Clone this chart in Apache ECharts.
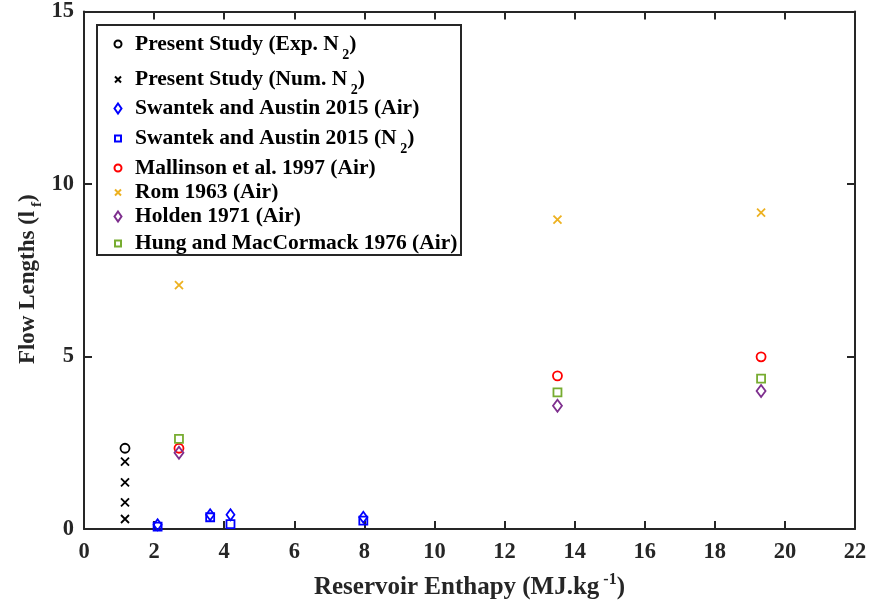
<!DOCTYPE html>
<html>
<head>
<meta charset="utf-8">
<script src="https://cdn.jsdelivr.net/npm/echarts@6/dist/echarts.min.js"></script>
<style>
  html, body { margin: 0; padding: 0; background: #fff; }
  #chart { width: 870px; height: 607px; }
</style>
</head>
<body>
<div id="chart"></div>
<script>
// Flow lengths against reservoir enthalpy
const presentExpX = [1.17];
const presentExpY = [2.34];
const presentNumX = [1.17, 1.17, 1.17, 1.17];
const presentNumY = [1.95, 1.35, 0.77, 0.29];
const swantekAirX = [2.10, 3.60, 4.18, 7.97];
const swantekAirY = [0.12, 0.41, 0.41, 0.34];
const swantekN2X = [2.10, 3.60, 4.18, 7.97];
const swantekN2Y = [0.07, 0.34, 0.14, 0.24];
const mallinsonX = [2.71, 13.51, 19.32];
const mallinsonY = [2.34, 4.44, 4.99];
const romX = [2.71, 13.51, 19.32];
const romY = [7.07, 8.97, 9.17];
const holdenX = [2.71, 13.51, 19.32];
const holdenY = [2.21, 3.57, 4.00];
const hungX = [2.71, 13.51, 19.32];
const hungY = [2.61, 3.96, 4.36];

const xTicks = { min: 0, max: 22, interval: 2 };
const yTicks = { min: 0, max: 15, interval: 5 };

const seriesNames = [
  'Present Study (Exp. N2)',
  'Present Study (Num. N2)',
  'Swantek and Austin 2015 (Air)',
  'Swantek and Austin 2015 (N2)',
  'Mallinson et al. 1997 (Air)',
  'Rom 1963 (Air)',
  'Holden 1971 (Air)',
  'Hung and MacCormack 1976 (Air)'
];
// legend captions with rich-text subscripts
const legendCaptions = [
  'Present Study (Exp. N{sub| 2})',
  'Present Study (Num. N{sub| 2})',
  'Swantek and Austin 2015 (Air)',
  'Swantek and Austin 2015 (N{sub| 2})',
  'Mallinson et al. 1997 (Air)',
  'Rom 1963 (Air)',
  'Holden 1971 (Air)',
  'Hung and MacCormack 1976 (Air)'
];

const FONT = '"Liberation Serif", "Times New Roman", serif';
const AXIS_COLOR = '#262626';
const CROSS = 'path://M0,0L10,10M0,10L10,0';

function pairs(xs, ys) { return xs.map((x, i) => [x, ys[i]]); }

// marker style per series; icon = legend marker size [w, h]
const styles = [
  { x: presentExpX, y: presentExpY, color: '#000000', symbol: 'circle', size: 9, icon: [7, 7] },
  { x: presentNumX, y: presentNumY, color: '#000000', symbol: CROSS, size: 8, icon: [6, 6] },
  { x: swantekAirX, y: swantekAirY, color: '#0000FF', symbol: 'diamond', size: [8, 11], icon: [7, 10] },
  { x: swantekN2X, y: swantekN2Y, color: '#0000FF', symbol: 'rect', size: 8, icon: [6, 6] },
  { x: mallinsonX, y: mallinsonY, color: '#FF0000', symbol: 'circle', size: 9, icon: [7, 7] },
  { x: romX, y: romY, color: '#EDB120', symbol: CROSS, size: 8, icon: [6, 6] },
  { x: holdenX, y: holdenY, color: '#7E2F8E', symbol: 'diamond', size: [9, 12], icon: [7, 10] },
  { x: hungX, y: hungY, color: '#77AC30', symbol: 'rect', size: 8, icon: [6, 6] }
];

const series = styles.map((s, i) => ({
  name: seriesNames[i],
  type: 'scatter',
  xAxisIndex: 0,
  yAxisIndex: 0,
  symbol: s.symbol,
  symbolSize: s.size,
  data: pairs(s.x, s.y),
  itemStyle: { color: 'rgba(0,0,0,0)', borderColor: s.color, borderWidth: 1.8, opacity: 1 },
  emphasis: { disabled: true },
  z: 3
}));

const legendRows = [42, 77, 108, 136, 166, 190, 216, 241];
const legendRich = {
  sub: { fontFamily: FONT, fontWeight: 'bold', fontSize: 14, color: '#000', padding: [22, 0, 0, 0] }
};
const ICON_CX = 117;
const TEXT_X = 134;
const legends = seriesNames.map((name, i) => {
  const [w, h] = styles[i].icon;
  return {
    data: [name],
    left: ICON_CX - w / 2,
    top: legendRows[i] - 9 - (h - 7) / 2,
    orient: 'vertical',
    padding: 0,
    itemWidth: w,
    itemHeight: h,
    itemGap: 0,
    symbolKeepAspect: false,
    selectedMode: false,
    formatter: () => legendCaptions[i],
    textStyle: {
      fontFamily: FONT, fontWeight: 'bold', fontSize: 21.5, color: '#000',
      padding: [0, 0, 0, TEXT_X - (ICON_CX + w / 2) - 5],
      rich: legendRich
    }
  };
});

const axisLine = { show: true, onZero: false, lineStyle: { color: AXIS_COLOR, width: 2 } };
const axisTick = { show: true, inside: true, length: 8, lineStyle: { color: AXIS_COLOR, width: 2 } };
const labelStyle = { fontFamily: FONT, fontWeight: 'bold', fontSize: 22.5, color: AXIS_COLOR };

const option = {
  backgroundColor: '#ffffff',
  animation: false,
  grid: { left: 84, right: 15, top: 11, bottom: 78, containLabel: false },
  legend: legends,
  graphic: [{
    type: 'rect',
    shape: { x: 97, y: 25, width: 364, height: 230 },
    style: { fill: 'rgba(0,0,0,0)', stroke: AXIS_COLOR, lineWidth: 2 },
    z: 10, silent: true
  }],
  xAxis: [{
    type: 'value', position: 'bottom',
    min: xTicks.min, max: xTicks.max, interval: xTicks.interval,
    axisLine, axisTick, splitLine: { show: false },
    axisLabel: Object.assign({ margin: 12 }, labelStyle),
    name: 'Reservoir Enthapy (MJ.kg{sup| -1})',
    nameLocation: 'middle', nameGap: 43, nameMoveOverlap: false,
    nameTextStyle: {
      fontFamily: FONT, fontWeight: 'bold', fontSize: 25, color: AXIS_COLOR,
      rich: { sup: { fontFamily: FONT, fontWeight: 'bold', fontSize: 16, color: AXIS_COLOR, padding: [0, 0, 16, 0] } }
    }
  }, {
    type: 'value', position: 'top',
    min: xTicks.min, max: xTicks.max, interval: xTicks.interval,
    axisLine, axisTick, splitLine: { show: false }, axisLabel: { show: false }
  }],
  yAxis: [{
    type: 'value', position: 'left',
    min: yTicks.min, max: yTicks.max, interval: yTicks.interval,
    axisLine, axisTick, splitLine: { show: false },
    axisLabel: Object.assign({ margin: 10 }, labelStyle),
    name: 'Flow Lengths (l{sub| f})',
    nameLocation: 'middle', nameGap: 39, nameRotate: 90, nameMoveOverlap: false,
    nameTextStyle: {
      fontFamily: FONT, fontWeight: 'bold', fontSize: 23, color: AXIS_COLOR,
      padding: [0, 18, 0, 0],
      rich: { sub: { fontFamily: FONT, fontWeight: 'bold', fontSize: 15, color: AXIS_COLOR, padding: [18, 0, 0, 0] } }
    }
  }, {
    type: 'value', position: 'right',
    min: yTicks.min, max: yTicks.max, interval: yTicks.interval,
    axisLine, axisTick, splitLine: { show: false }, axisLabel: { show: false }
  }],
  series
};

const chart = echarts.init(document.getElementById('chart'), null, { renderer: 'canvas' });
chart.setOption(option);
</script>
</body>
</html>
